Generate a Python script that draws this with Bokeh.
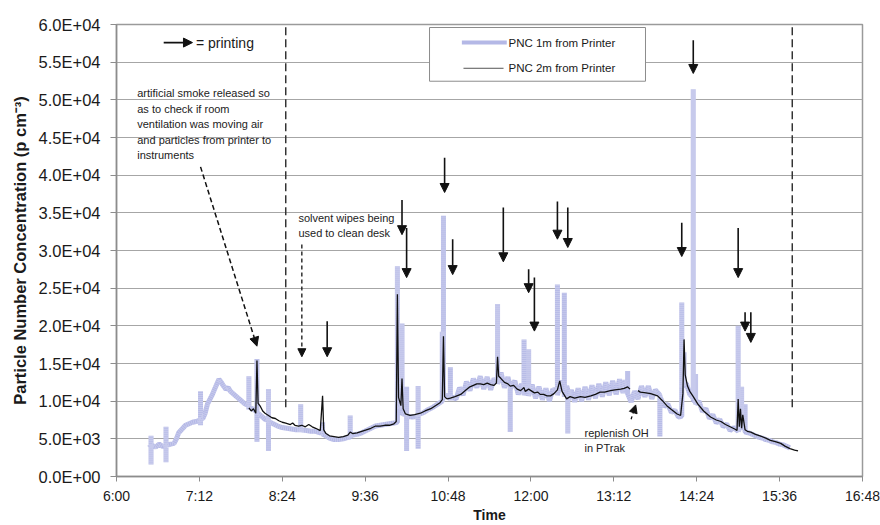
from bokeh.plotting import figure
from bokeh.models import Range1d, FixedTicker, Arrow, NormalHead, ColumnDataSource
from bokeh.embed import file_html
from bokeh.resources import INLINE
from bokeh.core.properties import value

FONT = "Liberation Sans"

# ---------------- data ----------------
x_tick_labels = ["6:00", "7:12", "8:24", "9:36", "10:48", "12:00", "13:12", "14:24", "15:36", "16:48"]
y_tick_values = [0, 5000, 10000, 15000, 20000, 25000, 30000, 35000, 40000, 45000, 50000, 55000, 60000]
y_tick_labels = ["0.0E+00", "5.0E+03", "1.0E+04", "1.5E+04", "2.0E+04", "2.5E+04", "3.0E+04",
                 "3.5E+04", "4.0E+04", "4.5E+04", "5.0E+04", "5.5E+04", "6.0E+04"]

pnc1m_time = [
    "6:28", "6:30", "6:30", "6:30", "6:30", "6:34", "6:37", "6:40", "6:43", "6:43",
    "6:43", "6:43", "6:47", "6:50", "6:52", "6:54", "6:57", "7:00", "7:03", "7:06",
    "7:09", "7:13", "7:13", "7:13", "7:13", "7:15", "7:17", "7:19", "7:21", "7:23",
    "7:25", "7:27", "7:29", "7:31", "7:33", "7:35", "7:37", "7:39", "7:42", "7:45",
    "7:48", "7:51", "7:55", "7:55", "7:55", "7:55", "7:58", "8:02", "8:02", "8:02",
    "8:02", "8:06", "8:09", "8:12", "8:12", "8:12", "8:12", "8:16", "8:20", "8:24",
    "8:28", "8:32", "8:36", "8:40", "8:40", "8:40", "8:40", "8:45", "8:49", "8:53",
    "8:57", "8:59", "8:59", "8:59", "9:01", "9:05", "9:09", "9:13", "9:17", "9:21",
    "9:23", "9:23", "9:23", "9:23", "9:25", "9:29", "9:33", "9:37", "9:41", "9:45",
    "9:49", "9:53", "9:57", "10:01", "10:04", "10:04", "10:04", "10:06", "10:08", "10:08",
    "10:08", "10:10", "10:12", "10:12", "10:12", "10:12", "10:17", "10:22", "10:22", "10:22",
    "10:22", "10:27", "10:31", "10:35", "10:39", "10:43", "10:43", "10:43", "10:44", "10:44",
    "10:44", "10:47", "10:50", "10:50", "10:50", "10:50", "10:52", "10:55", "10:58", "11:01",
    "11:04", "11:07", "11:10", "11:13", "11:16", "11:19", "11:22", "11:25", "11:28", "11:31",
    "11:31", "11:31", "11:34", "11:37", "11:40", "11:42", "11:42", "11:42", "11:46", "11:49",
    "11:52", "11:54", "11:54", "11:54", "11:56", "11:58", "11:58", "11:58", "12:01", "12:04",
    "12:07", "12:10", "12:13", "12:16", "12:19", "12:23", "12:23", "12:23", "12:26", "12:29",
    "12:29", "12:29", "12:31", "12:32", "12:32", "12:32", "12:35", "12:38", "12:41", "12:44",
    "12:47", "12:50", "12:53", "12:56", "12:59", "13:02", "13:05", "13:08", "13:11", "13:14",
    "13:17", "13:20", "13:22", "13:24", "13:24", "13:24", "13:27", "13:30", "13:33", "13:36",
    "13:39", "13:42", "13:45", "13:48", "13:52", "13:52", "13:52", "13:56", "13:59", "14:02",
    "14:05", "14:08", "14:11", "14:11", "14:11", "14:13", "14:13", "14:13", "14:15", "14:18",
    "14:21", "14:21", "14:21", "14:23", "14:23", "14:23", "14:26", "14:29", "14:32", "14:35",
    "14:38", "14:41", "14:44", "14:47", "14:50", "14:53", "14:56", "15:00", "15:00", "15:00",
    "15:03", "15:03", "15:03", "15:06", "15:06", "15:06", "15:09", "15:12", "15:15", "15:18",
    "15:21", "15:24", "15:27", "15:30", "15:33", "15:36", "15:39", "15:42", "15:45",
]
pnc1m_value = [
    3800, 4000, 5400, 1600, 4200, 3900, 4300, 4000, 4100, 6600,
    1900, 4100, 4300, 4400, 5000, 5800, 6300, 6800, 7000, 7200,
    7300, 7500, 11300, 6800, 7600, 7700, 8400, 9600, 10200, 10800,
    11500, 12200, 12900, 12500, 12000, 11600, 11800, 11300, 10900, 10500,
    10100, 9700, 9400, 13300, 8900, 9200, 9000, 8600, 15600, 4600,
    8500, 8000, 7600, 7400, 11600, 3400, 7300, 7000, 6700, 6500,
    6400, 6300, 6200, 6200, 9600, 5900, 6200, 6100, 6000, 6000,
    5800, 5800, 7200, 5600, 5500, 5100, 4900, 4900, 5000, 5200,
    5200, 8100, 5100, 5300, 5500, 5600, 5800, 6100, 6400, 6700,
    6800, 6900, 7000, 7100, 7200, 27900, 9500, 9200, 9000, 20300,
    8200, 8400, 8200, 11900, 3400, 8000, 7900, 8000, 12000, 3700,
    8200, 8500, 8900, 9200, 9600, 10000, 19200, 10300, 10300, 34600,
    10500, 10800, 10600, 14500, 10100, 10500, 10500, 10300, 11800, 10800,
    12600, 11400, 13000, 11800, 13300, 11600, 13200, 11500, 13000, 12500,
    22900, 12300, 13800, 11800, 13200, 12000, 5900, 11600, 12700, 10900,
    12300, 11800, 18200, 10800, 12100, 11500, 16900, 10700, 12200, 10400,
    11900, 10200, 11700, 10000, 11600, 11200, 25500, 10800, 12700, 11800,
    24400, 10600, 12000, 11500, 5700, 10000, 11500, 9900, 11700, 10000,
    11900, 10200, 12100, 10400, 12300, 10600, 12500, 10800, 12700, 10900,
    12900, 11100, 12800, 12000, 14000, 11000, 9900, 11300, 10300, 12000,
    10600, 12000, 10300, 11500, 10800, 5300, 10600, 9300, 9600, 8500,
    8800, 7900, 8000, 23100, 12000, 12000, 16500, 12300, 12300, 10900,
    10400, 51400, 10100, 10000, 13600, 9600, 10000, 8600, 9000, 7700,
    8200, 7100, 7600, 6600, 7000, 6100, 6500, 6000, 20000, 6000,
    7000, 11900, 6500, 6500, 9600, 5900, 5800, 5600, 5400, 5200,
    5100, 4900, 4800, 4600, 4500, 4300, 4200, 4000, 3800,
]

pnc2m_time = [
    "7:55", "7:57", "7:59", "8:01", "8:02", "8:03", "8:05", "8:07", "8:09", "8:12", "8:15", "8:18",
    "8:21", "8:24", "8:27", "8:31", "8:33", "8:35", "8:38", "8:41", "8:44", "8:47", "8:50", "8:53",
    "8:57", "8:59", "9:00", "9:02", "9:05", "9:09", "9:13", "9:17", "9:21", "9:23", "9:25", "9:29",
    "9:33", "9:37", "9:41", "9:45", "9:49", "9:53", "9:57", "10:01", "10:03", "10:04", "10:05",
    "10:07", "10:08", "10:09", "10:11", "10:15", "10:19", "10:24", "10:28", "10:33", "10:37", "10:41",
    "10:43", "10:44", "10:45", "10:47", "10:50", "10:54", "10:59", "11:03", "11:07", "11:10", "11:13",
    "11:16", "11:19", "11:22", "11:25", "11:28", "11:30", "11:31", "11:32", "11:34", "11:37", "11:40",
    "11:42", "11:45", "11:48", "11:51", "11:54", "11:55", "11:58", "12:00", "12:03", "12:06", "12:08",
    "12:11", "12:14", "12:17", "12:20", "12:23", "12:25", "12:27", "12:29", "12:31", "12:34", "12:38",
    "12:43", "12:47", "12:52", "12:56", "13:00", "13:04", "13:09", "13:13", "13:18", "13:21", "13:24",
    "13:26", "13:29", "13:33", "13:35", "13:40", "13:44", "13:48", "13:50", "13:54", "13:58", "14:02",
    "14:07", "14:10", "14:12", "14:13", "14:14", "14:16", "14:18", "14:21", "14:25", "14:30", "14:36",
    "14:41", "14:45", "14:49", "14:53", "14:57", "14:59", "15:00", "15:01", "15:02", "15:03", "15:04",
    "15:06", "15:08", "15:11", "15:15", "15:19", "15:24", "15:28", "15:33", "15:37", "15:41", "15:45",
    "15:49", "15:52",
]
pnc2m_value = [
    9100, 8700, 9000, 8400, 15400, 9700, 9300, 8700, 8400, 8100, 7800, 7700,
    7400, 7200, 7100, 6900, 7100, 6800, 6700, 6800, 6600, 6900, 6600, 6400,
    6100, 10700, 6200, 5700, 5400, 5300, 5200, 5300, 5500, 5900, 5700, 5800,
    6000, 6200, 6400, 6700, 6700, 6800, 6800, 7000, 7300, 24200, 10500,
    9400, 13000, 9000, 8300, 8100, 8200, 8400, 8700, 9000, 9400, 9800,
    10200, 18600, 10600, 10300, 10400, 10600, 10900, 11400, 11900, 12100, 12300,
    12300, 12200, 12400, 12200, 12100, 12400, 15900, 13300, 13000, 12500, 12300,
    12000, 12100, 11600, 11400, 11800, 11300, 11600, 11400, 11100, 11200, 10900,
    10900, 10700, 10700, 11000, 11500, 12700, 11300, 10800, 10300, 10600, 10400,
    10600, 10500, 10700, 10900, 11200, 11200, 11400, 11500, 11600, 11700, 11900,
    11600, float("nan"), 11400, 11200, 11100, 11000, 10800, 10700, 10100, 9400, 8900,
    8300, 8100, 11000, 18200, 13500, 12000, 11300, 10600, 9600, 8700, 7900,
    7500, 7300, 6900, 6600, 6300, 6100, 10300, 6600, 9000, 6400, 8200,
    6200, 6000, 5900, 5600, 5400, 5100, 4800, 4600, 4400, 4000, 3700,
    3500, 3400,
]

# "printing" arrows: time, tail value, tip value
print_arrow_time = ["9:03", "10:08", "10:12", "10:45", "10:52", "11:36", "11:58", "12:03",
                    "12:23", "12:32", "14:11", "14:21", "15:00", "15:06", "15:11"]
print_arrow_tail = [20600, 36700, 33000, 42300, 31500, 35700, 27500, 26400,
                    36500, 35700, 33700, 57900, 33000, 21800, 21800]
print_arrow_tip = [15900, 32100, 26400, 37700, 26800, 28500, 24400, 19300,
                   31500, 30400, 29200, 53500, 26400, 19300, 17800]

assert len(pnc1m_time) == len(pnc1m_value)
assert len(pnc2m_time) == len(pnc2m_value)


def to_min(s):
    h, m = s.split(":")
    return int(h) * 60 + int(m)


x_ticks = [to_min(s) for s in x_tick_labels]

p = figure(width=880, height=525, output_backend="svg", toolbar_location=None,
           x_range=Range1d(360, 1008), y_range=Range1d(0, 60000),
           min_border_left=116, min_border_right=18, min_border_top=24, min_border_bottom=47)
p.background_fill_color = "white"
p.border_fill_color = "white"
p.outline_line_color = "#9a9a9a"
p.outline_line_width = 1.5

p.xgrid.grid_line_color = None
p.ygrid.grid_line_color = "#a6a6a6"
p.ygrid.grid_line_width = 1
p.ygrid.ticker = FixedTicker(ticks=y_tick_values)

p.xaxis.ticker = FixedTicker(ticks=x_ticks)
p.xaxis.major_label_overrides = {t: l for t, l in zip(x_ticks, x_tick_labels)}
p.yaxis.ticker = FixedTicker(ticks=y_tick_values)
p.yaxis.major_label_overrides = {t: l for t, l in zip(y_tick_values, y_tick_labels)}

for ax in (p.xaxis, p.yaxis):
    ax.axis_line_color = "#8c8c8c"
    ax.axis_line_width = 1.5
    ax.major_tick_line_color = "#8c8c8c"
    ax.major_tick_in = 0
    ax.minor_tick_line_color = None
    ax.major_label_text_font = FONT
    ax.major_label_text_color = "#1a1a1a"
    ax.axis_label_text_font = FONT
    ax.axis_label_text_font_style = "bold"
    ax.axis_label_text_color = "#1a1a1a"

p.xaxis.major_tick_out = 5
p.yaxis.major_tick_out = 6
p.xaxis.major_label_text_font_size = "14px"
p.yaxis.major_label_text_font_size = "16.5px"
p.xaxis.major_label_standoff = 6
p.yaxis.major_label_standoff = 10
p.xaxis.axis_label = "Time"
p.xaxis.axis_label_text_font_size = "14px"
p.xaxis.axis_label_standoff = 0
p.yaxis.axis_label = "Particle Number Concentration (p cm\u207B\u00B3)"
p.yaxis.axis_label_text_font_size = "16.5px"
p.yaxis.axis_label_standoff = 7

# series
src1 = ColumnDataSource(dict(t=[to_min(s) for s in pnc1m_time], v=pnc1m_value))
src2 = ColumnDataSource(dict(t=[to_min(s) for s in pnc2m_time], v=pnc2m_value))
p.line("t", "v", source=src1, line_color="#b4b8e6", line_width=5)
p.line("t", "v", source=src1, line_color="white", line_width=5, line_alpha=0.25, line_dash="1 1")
p.line("t", "v", source=src2, line_color="#111111", line_width=1.3)

# vertical dashed markers
p.segment(x0=[to_min("8:27"), to_min("15:47")], y0=[9200, 9200],
          x1=[to_min("8:27"), to_min("15:47")], y1=[61000, 61000],
          line_color="#333333", line_width=1.5, line_dash="8 4")

# printing arrows
asrc = ColumnDataSource(dict(x=[to_min(s) for s in print_arrow_time],
                             y0=print_arrow_tail, y1=print_arrow_tip))
p.add_layout(Arrow(end=NormalHead(size=9, fill_color="#111111", line_color="#111111"),
                   source=asrc, x_start="x", y_start="y0", x_end="x", y_end="y1",
                   line_color="#111111", line_width=1.6))

# key arrow "= printing"
p.add_layout(Arrow(end=NormalHead(size=9, fill_color="#111111", line_color="#111111"),
                   x_start=to_min("6:41"), y_start=57600, x_end=to_min("7:06"), y_end=57600,
                   line_color="#111111", line_width=1.6))
p.text(x=[to_min("7:09")], y=[57600], text=["= printing"], text_font=value(FONT),
       text_font_size="14px", text_baseline="middle", text_color="#1a1a1a")

# dashed annotation arrows
p.add_layout(Arrow(end=NormalHead(size=9, fill_color="#111111", line_color="#111111"),
                   x_start=to_min("7:13"), y_start=41100, x_end=to_min("8:02"), y_end=17300,
                   line_color="#111111", line_width=1.5, line_dash="5 3"))
p.add_layout(Arrow(end=NormalHead(size=8, fill_color="#111111", line_color="#111111"),
                   x_start=to_min("8:41"), y_start=30800, x_end=to_min("8:41"), y_end=15900,
                   line_color="#111111", line_width=1.3, line_dash="4 3"))
p.add_layout(Arrow(end=NormalHead(size=8, fill_color="#111111", line_color="#111111"),
                   x_start=to_min("13:27"), y_start=7600, x_end=to_min("13:31"), y_end=9500,
                   line_color="#111111", line_width=1.3, line_dash="3 3"))

# annotation texts
notes_x = [to_min("6:18"), to_min("8:38"), 766.5]
notes_y = [51700, 35150, 6600]
notes_text = [
    "artificial smoke released so\nas to check if room\nventilation was moving air\nand particles from printer to\ninstruments",
    "solvent wipes being\nused to clean desk",
    "replenish OH\nin PTrak",
]
p.text(x=notes_x, y=notes_y, text=notes_text, text_font=value(FONT), text_font_size="11px",
       text_baseline="top", text_line_height=1.3, text_color="#222222")

# legend box
p.quad(left=[631.9], right=[819.5], top=[59600], bottom=[52470],
       fill_color="white", line_color="#8c8c8c", line_width=1)
p.segment(x0=[660], y0=[57600], x1=[699], y1=[57600], line_color="#b4b8e6", line_width=4)
p.segment(x0=[661.4], y0=[54190], x1=[696.2], y1=[54190], line_color="#555555", line_width=1)
p.text(x=[700.5, 700.5], y=[57600, 54190], text=["PNC 1m from Printer", "PNC 2m from Printer"],
       text_font=value(FONT), text_font_size="11.5px", text_baseline="middle", text_color="#1a1a1a")

open("out.html", "w").write(file_html(p, INLINE))
